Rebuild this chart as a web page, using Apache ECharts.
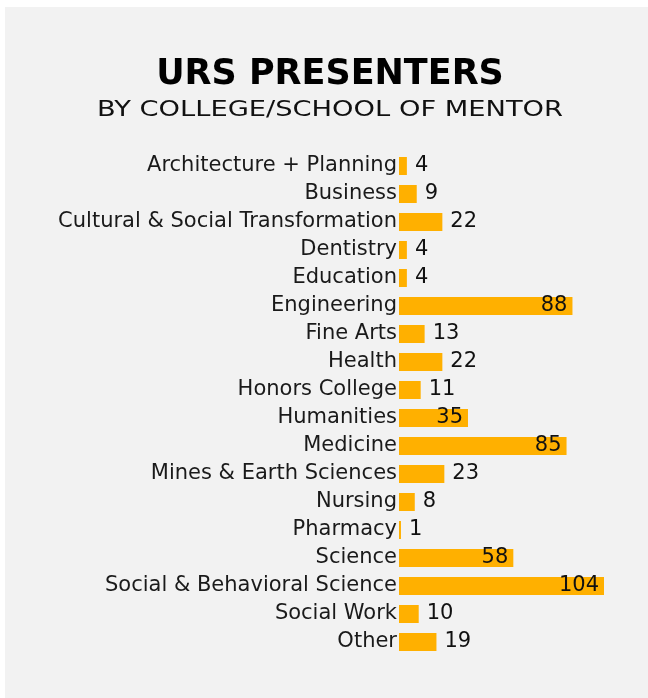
<!DOCTYPE html>
<html>
<head>
<meta charset="utf-8">
<script src="https://cdn.jsdelivr.net/npm/echarts@6/dist/echarts.min.js"></script>
<style>
  html, body { margin: 0; padding: 0; background: #ffffff; }
  #panel { position: absolute; left: 5px; top: 7px; width: 643px; height: 691px; background: #f2f2f2; }
  #chart { width: 643px; height: 691px; }
</style>
</head>
<body>
<div id="panel"><div id="chart"></div></div>
<script>
// categories top to bottom
const colleges = [
    'Architecture + Planning', 'Business', 'Cultural & Social Transformation',
    'Dentistry', 'Education', 'Engineering', 'Fine Arts', 'Health',
    'Honors College', 'Humanities', 'Medicine', 'Mines & Earth Sciences',
    'Nursing', 'Pharmacy', 'Science', 'Social & Behavioral Science',
    'Social Work', 'Other'
]
const presenters = [4, 9, 22, 4, 4, 88, 13, 22, 11, 35, 85, 23, 8, 1, 58, 104, 10, 19]

const fontName = 'DejaVu Sans'
const chart = echarts.init(document.getElementById('chart'))

// big bars get the number inside, small ones outside
const barData = presenters.map(function (v) {
    if (v >= 35) {
        return { value: v, label: { position: 'insideRight', distance: 5 } }
    }
    return { value: v, label: { position: 'right', distance: 8 } }
})

var option = {
    backgroundColor: '#f2f2f2',
    graphic: [{
        type: 'text',
        x: 325,
        y: 50,
        style: {
            text: 'URS PRESENTERS',
            textAlign: 'center',
            textVerticalAlign: 'top',
            font: 'bold 35px "DejaVu Sans"',
            fill: '#000'
        }
    }, {
        // the original face is much wider, so stretch a bit
        type: 'text',
        x: 325,
        y: 92,
        scaleX: 1.24,
        style: {
            text: 'BY COLLEGE/SCHOOL OF MENTOR',
            textAlign: 'center',
            textVerticalAlign: 'top',
            font: '22px "DejaVu Sans"',
            fill: '#111'
        }
    }],
    grid: {
        left: 394,
        width: 205,
        top: 145,
        height: 504
    },
    xAxis: {
        type: 'value',
        min: 0,
        max: 104,
        show: false
    },
    yAxis: {
        type: 'category',
        data: colleges,
        inverse: true,
        axisLine: { show: false },
        axisTick: { show: false },
        splitLine: { show: false },
        axisLabel: {
            margin: 2,
            fontFamily: fontName,
            fontSize: 21,
            color: '#1a1a1a'
        }
    },
    series: [{
        type: 'bar',
        data: barData,
        barWidth: 18,
        itemStyle: { color: '#ffb000' },
        label: {
            show: true,
            fontFamily: fontName,
            fontSize: 21,
            color: '#111'
        }
    }]
}
chart.setOption(option)
</script>
</body>
</html>
